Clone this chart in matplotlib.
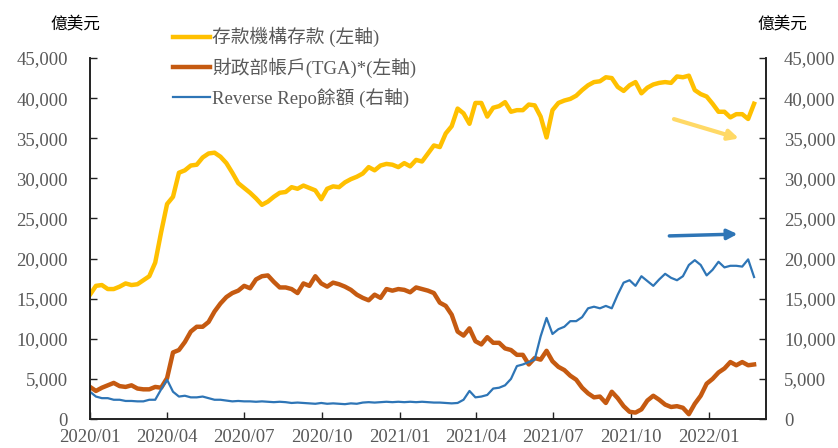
import numpy as np
import pandas as pd
import matplotlib
matplotlib.use("Agg")
import matplotlib.pyplot as plt
import matplotlib.dates as mdates
from matplotlib.ticker import FuncFormatter

# weekly data, 億美元
dates = pd.date_range("2020-01-01", periods=113, freq="7D")

deposits = [15500, 16600, 16700, 16200, 16200, 16500, 16900, 16700, 16800, 17300,
            17800, 19500, 23300, 26800, 27700, 30700, 31000, 31600, 31700, 32600,
            33100, 33200, 32700, 31900, 30700, 29400, 28800, 28200, 27500, 26700,
            27100, 27700, 28200, 28300, 28900, 28700, 29100, 28800, 28500, 27400,
            28700, 29000, 28900, 29500, 29900, 30200, 30600, 31400, 31000, 31600,
            31800, 31700, 31400, 31900, 31500, 32300, 32100, 33100, 34100, 33900,
            35600, 36500, 38700, 38100, 36800, 39400, 39400, 37700, 38800, 39000,
            39500, 38300, 38500, 38500, 39200, 39100, 37700, 35100, 38500, 39400,
            39700, 39900, 40300, 41000, 41600, 42000, 42100, 42600, 42500, 41400,
            40900, 41600, 42000, 40600, 41300, 41700, 41900, 42000, 41900, 42700,
            42600, 42800, 41000, 40500, 40200, 39300, 38300, 38300, 37600, 38000,
            38000, 37400, 39300]

tga = [4000, 3500, 3900, 4200, 4500, 4100, 4000, 4200, 3800, 3700,
       3700, 4000, 3900, 5100, 8300, 8600, 9600, 10900, 11500, 11500,
       12100, 13400, 14400, 15200, 15700, 16000, 16600, 16300, 17400, 17800,
       17900, 17100, 16400, 16400, 16200, 15700, 16900, 16600, 17800, 16900,
       16500, 17000, 16800, 16500, 16100, 15500, 15100, 14800, 15500, 15100,
       16200, 16000, 16200, 16100, 15800, 16400, 16200, 16000, 15700, 14500,
       14100, 13000, 10900, 10400, 11300, 9700, 9300, 10200, 9500, 9500,
       8800, 8600, 8000, 8000, 6800, 7600, 7400, 8500, 7200, 6500,
       6100, 5400, 4900, 3900, 3200, 2700, 2800, 2000, 3400, 2600,
       1600, 900, 800, 1200, 2300, 2900, 2400, 1800, 1500, 1600,
       1400, 600, 1900, 2900, 4400, 5000, 5800, 6300, 7100, 6700,
       7100, 6700, 6800]

rrp = [3400, 2800, 2600, 2600, 2400, 2400, 2250, 2250, 2200, 2200,
       2400, 2400, 3700, 4900, 3400, 2800, 2900, 2700, 2700, 2800,
       2600, 2400, 2400, 2300, 2200, 2250, 2200, 2200, 2150, 2200,
       2150, 2100, 2150, 2100, 2000, 2050, 2000, 1950, 1900, 2000,
       1900, 1950, 1900, 1850, 1950, 1900, 2050, 2100, 2050, 2100,
       2150, 2100, 2150, 2100, 2150, 2100, 2150, 2100, 2050, 2050,
       2000, 1950, 2000, 2400, 3500, 2700, 2800, 3000, 3800, 3900,
       4200, 5000, 6600, 6800, 7100, 7400, 10300, 12600, 10600, 11200,
       11500, 12200, 12200, 12700, 13800, 14000, 13800, 14100, 13800, 15500,
       17000, 17300, 16600, 17800, 17200, 16600, 17400, 18100, 17600, 17300,
       17800, 19200, 19800, 19200, 17900, 18600, 19600, 18900, 19100, 19100,
       19000, 19900, 17700]

labels = ["存款機構存款 (左軸)", "財政部帳戶(TGA)*(左軸)", "Reverse Repo餘額 (右軸)"]
colors = ["#FFC000", "#C55A11", "#2E75B6"]

serif_cjk = ["Liberation Serif", "Noto Sans CJK TC"]
gray = "#595959"

fig = plt.figure(figsize=(8.38, 4.48), dpi=100)
ax = fig.add_axes([0.1074, 0.0647, 0.8066, 0.8058])
ax2 = ax.twinx()

l1, = ax.plot(dates, deposits, color=colors[0], lw=3.2, solid_joinstyle="round")
l2, = ax.plot(dates, tga, color=colors[1], lw=3.2, solid_joinstyle="round")
l3, = ax2.plot(dates, rrp, color=colors[2], lw=1.6)

ticks = np.arange(0, 45001, 5000)
fmt = FuncFormatter(lambda v, p: f"{v:,.0f}")
for a in (ax, ax2):
    a.set_ylim(0, 45000)
    a.set_yticks(ticks)
    a.yaxis.set_major_formatter(fmt)
    a.spines["top"].set_visible(False)
    for s in a.spines.values():
        s.set_color("#222222")
        s.set_linewidth(1.2)
    a.set_xlim(pd.Timestamp("2020-01-01"), pd.Timestamp("2022-03-09"))
    a.tick_params(direction="in", length=5, width=1, colors="#222222",
                  labelcolor=gray, labelsize=13.5)
    for t in a.get_yticklabels():
        t.set_fontfamily("Liberation Serif")

ax.tick_params(axis="y", pad=16)
ax2.tick_params(axis="y", pad=13)

qt = pd.date_range("2020-01-01", "2022-01-01", freq="QS")
ax.set_xticks(qt)
ax.xaxis.set_major_formatter(mdates.DateFormatter("%Y/%m"))
ax.tick_params(axis="x", pad=7, labelsize=13.5)
for t in ax.get_xticklabels():
    t.set_fontfamily("Liberation Serif")

fig.text(0.0895, 0.944, "億美元", ha="center", va="center", fontsize=12,
         family=serif_cjk, color="black")
fig.text(0.9335, 0.944, "億美元", ha="center", va="center", fontsize=12,
         family=serif_cjk, color="black")

leg = fig.legend([l1, l2, l3], labels, loc="upper left",
                 bbox_to_anchor=(0.207, 0.94), frameon=False,
                 prop={"family": serif_cjk, "size": 13.5},
                 handlelength=1.95, handletextpad=0.12, labelspacing=0.55,
                 borderpad=0, borderaxespad=0)
for t in leg.get_texts():
    t.set_color(gray)

# trend arrows
ax.annotate("", xy=(0.964, 0.775), xytext=(0.86, 0.833), xycoords="axes fraction",
            arrowprops=dict(arrowstyle="-|>,head_length=0.6,head_width=0.3",
                            color="#FFD966", lw=3))
ax.annotate("", xy=(0.962, 0.5125), xytext=(0.853, 0.507), xycoords="axes fraction",
            arrowprops=dict(arrowstyle="-|>,head_length=0.6,head_width=0.3",
                            color="#2E75B6", lw=2.5))

fig.savefig("out.png", dpi=100)
